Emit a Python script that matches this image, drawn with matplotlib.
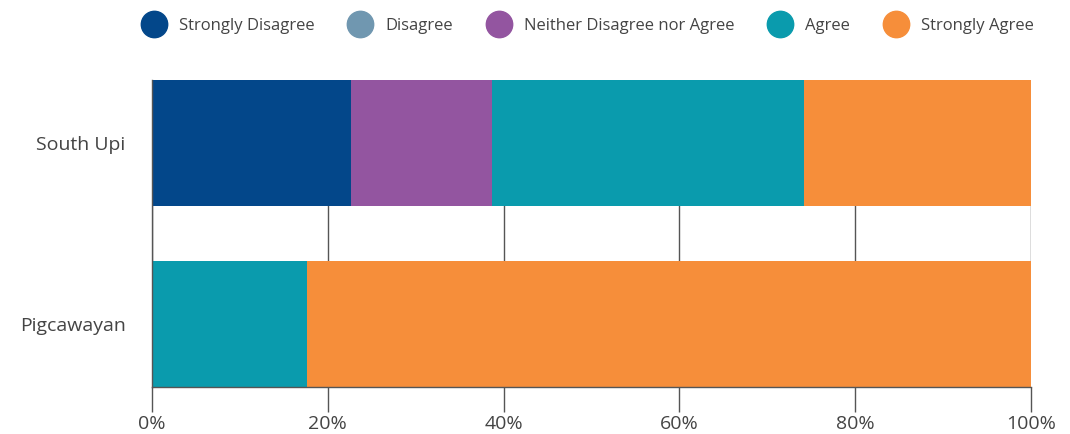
import matplotlib
matplotlib.use("Agg")
import matplotlib.pyplot as plt
from matplotlib.lines import Line2D
from matplotlib.ticker import PercentFormatter

plt.rcParams["font.family"] = ["Open Sans", "DejaVu Sans"]

regions = ["Pigcawayan", "South Upi"]
categories = ["Strongly Disagree", "Disagree", "Neither Disagree nor Agree",
              "Agree", "Strongly Agree"]
# share of respondents (%) per region, same order as `regions`
strongly_disagree = [0.0, 22.6]
disagree = [0.0, 0.0]
neither = [0.0, 16.1]
agree = [17.6, 35.5]
strongly_agree = [82.4, 25.8]
xticks = [0, 20, 40, 60, 80, 100]

colors = ["#03478A", "#7097B0", "#9355A0", "#0A9BAD", "#F68E3A"]
series = [strongly_disagree, disagree, neither, agree, strongly_agree]

fig = plt.figure(figsize=(10.70, 4.34), dpi=100)
ax = fig.add_axes([152 / 1070, 1 - 387 / 434, 879 / 1070, 307 / 434])

left = [0.0] * len(regions)
for vals, col in zip(series, colors):
    ax.barh(range(len(regions)), vals, left=left, height=0.7, color=col,
            zorder=3)
    left = [l + v for l, v in zip(left, vals)]

ax.set_xlim(0, 100)
ax.set_ylim(-0.35, 1.35)
ax.set_yticks(range(len(regions)))
ax.set_yticklabels(regions)
ax.set_xticks(xticks)
ax.xaxis.set_major_formatter(PercentFormatter(decimals=0))
ax.grid(axis="x", color="#555555", linewidth=1, zorder=0)
ax.tick_params(axis="x", length=18, width=1, color="#555555", pad=2.5,
               labelsize=14, labelcolor="#444444")
ax.tick_params(axis="y", length=0, pad=19, labelsize=14, labelcolor="#444444")
for s in ["top", "right"]:
    ax.spines[s].set_visible(False)
for s in ["left", "bottom"]:
    ax.spines[s].set_color("#555555")
    ax.spines[s].set_linewidth(1)
    ax.spines[s].set_zorder(4)

handles = [Line2D([], [], marker="o", linestyle="", markersize=19,
                  markerfacecolor=c, markeredgecolor=c) for c in colors]
fig.legend(handles, categories, loc="center", bbox_to_anchor=(0.547, 1 - 26 / 434),
           ncol=5, frameon=False, fontsize=12, handletextpad=0.5,
           columnspacing=1.75, labelcolor="#444444")

fig.savefig("out.png", dpi=100)
